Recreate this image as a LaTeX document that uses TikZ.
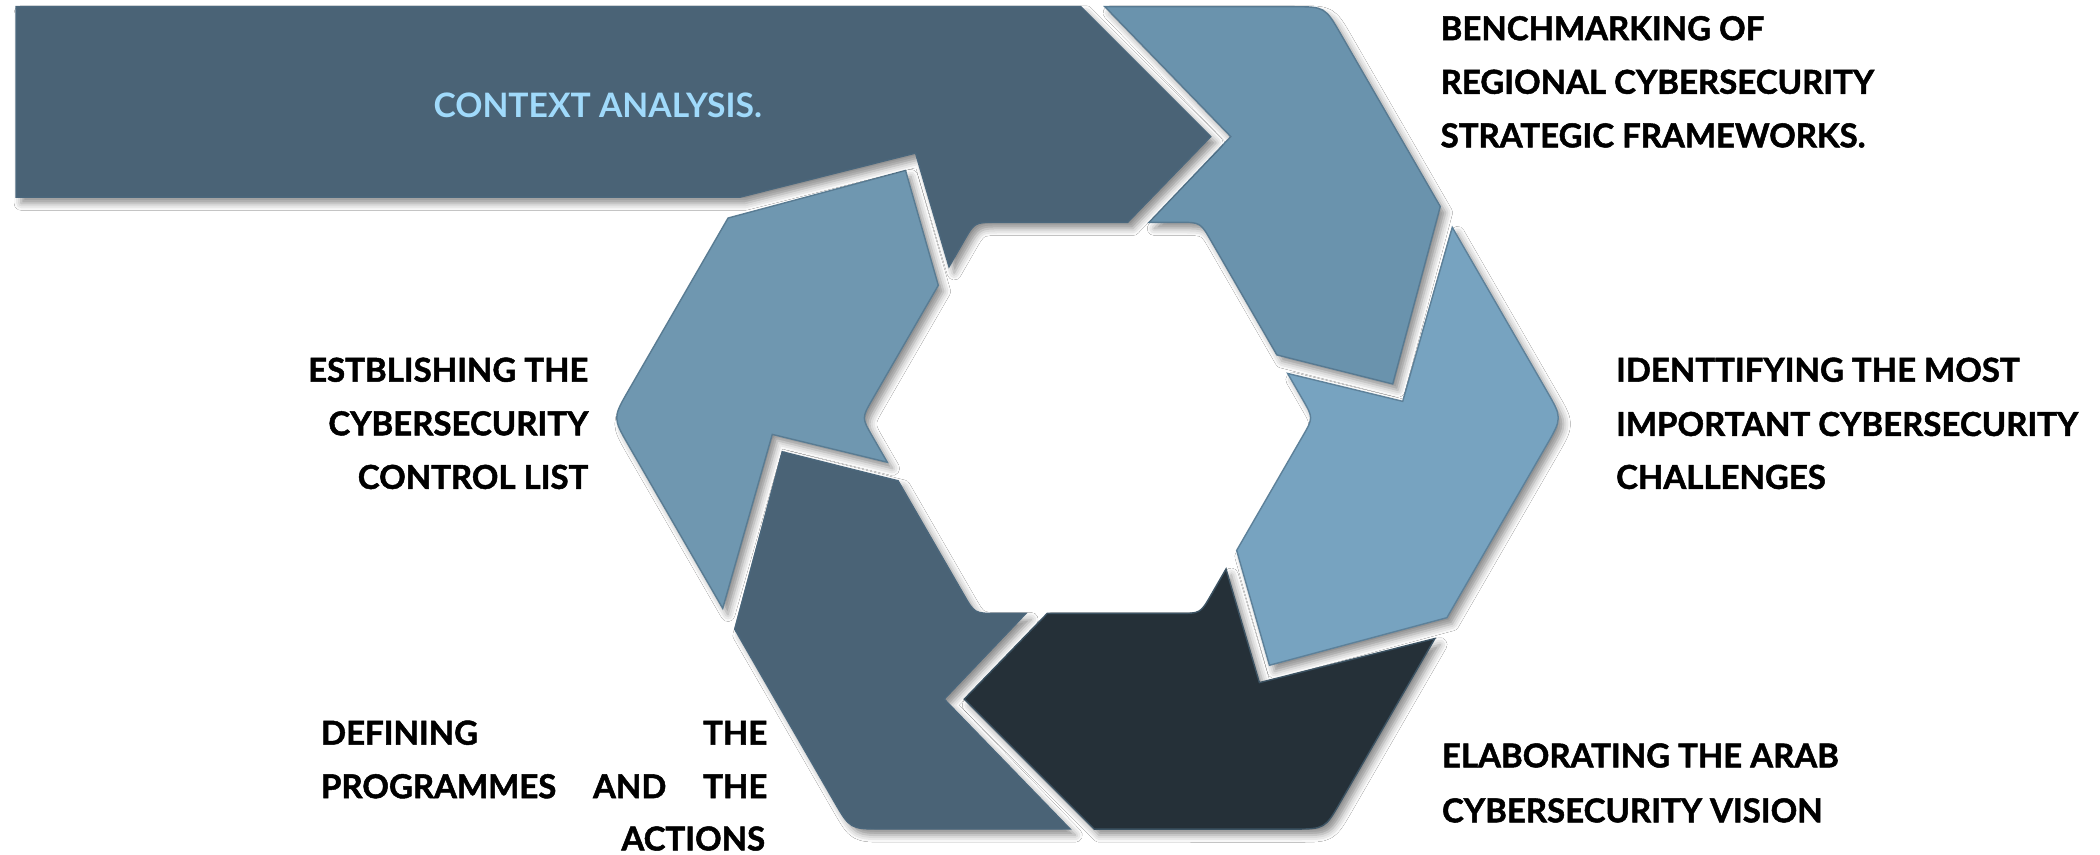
\documentclass[tikz,border=0pt]{standalone}
\usepackage{fontspec}
\setmainfont{Lato}
\newfontfamily\labfont{Lato}[BoldFeatures={FakeBold=1.5}]
\usetikzlibrary{calc,shadows.blur}
\definecolor{slate}{HTML}{4A6376}
\definecolor{midblue}{HTML}{6A93AD}
\definecolor{leftblue}{HTML}{6F97B0}
\definecolor{rightblue}{HTML}{77A3C0}
\definecolor{darkpiece}{HTML}{253038}
\definecolor{ctxblue}{HTML}{A0DAFB}
\definecolor{rimcol}{HTML}{4B6A80}
\begin{document}
\begin{tikzpicture}[x=0.01cm,y=0.01cm,
  seg/.style={draw=rimcol!60!#1,line width=0.3pt,fill=#1,
    blur shadow={shadow xshift=1.1pt,shadow yshift=-1.3pt,shadow blur radius=1.5pt,shadow opacity=45}},
  lbl/.style={inner sep=0pt,font=\fontsize{7pt}{8pt}\labfont\bfseries,text=black},
  ctxlbl/.style={inner sep=0pt,font=\fontsize{7.15pt}{8pt}\selectfont\bfseries,text=ctxblue},
]
\useasboundingbox (0,0) rectangle (1568,638);
\fill[white] (0,0) rectangle (1568,638);
\coordinate (C) at (812,326);
% five ring pieces, each wrapping one hexagon vertex
\foreach \ang/\col in {0/midblue,-60/rightblue,-120/darkpiece,-180/slate,-240/leftblue}{
  \fill[seg=\col]
    ([shift={(C)},rotate=\ang]13,307) -- ([shift={(C)},rotate=\ang]153.3,307)
    .. controls ([shift={(C)},rotate=\ang]177.3,307) .. ([shift={(C)},rotate=\ang]189.3,286.2)
    -- ([shift={(C)},rotate=\ang]263.4,157.8) -- ([shift={(C)},rotate=\ang]227.9,25.3)
    -- ([shift={(C)},rotate=\ang]141.4,47) -- ([shift={(C)},rotate=\ang]92.3,132.1)
    .. controls ([shift={(C)},rotate=\ang]84.3,146) .. ([shift={(C)},rotate=\ang]68.3,146)
    -- ([shift={(C)},rotate=\ang]46,146) -- ([shift={(C)},rotate=\ang]107,210) -- cycle;
}
% top piece with the long band to the left
\fill[seg=slate] (12,633) -- (807,633) -- (904,536) -- (842,472) -- (743.7,472)
  .. controls (727.7,472) .. (719.7,458.1) -- (708.6,438.8) -- (683.6,523.7)
  -- (552.6,490.8) -- (12,490.8) -- cycle;
% labels
\node[ctxlbl,anchor=base west] (ctx) at (323,550) {CONTEXT ANALYSIS.};
\node[lbl,anchor=base west] (b1) at (1075,608) {BENCHMARKING OF};
\node[lbl,anchor=base west] (b2) at (1075,568) {REGIONAL CYBERSECURITY};
\node[lbl,anchor=base west] (b3) at (1075,528) {STRATEGIC FRAMEWORKS.};
\node[lbl,anchor=base west] (i1) at (1206,353) {IDENTTIFYING THE MOST};
\node[lbl,anchor=base west] (i2) at (1206,312.5) {IMPORTANT CYBERSECURITY};
\node[lbl,anchor=base west] (i3) at (1206,273) {CHALLENGES};
\node[lbl,anchor=base west] (e1) at (1076,65) {ELABORATING THE ARAB};
\node[lbl,anchor=base west] (e2) at (1076,24) {CYBERSECURITY VISION};
\node[lbl,anchor=base east] (s1) at (440,353) {ESTBLISHING THE};
\node[lbl,anchor=base east] (s2) at (440,313) {CYBERSECURITY};
\node[lbl,anchor=base east] (s3) at (440,273) {CONTROL LIST};
\node[lbl,anchor=base west] (d1) at (239,82) {\makebox[3.33cm]{DEFINING\hfill THE}};
\node[lbl,anchor=base west] (d2) at (239,42) {\makebox[3.33cm]{PROGRAMMES\hfill AND\hfill THE}};
\node[lbl,anchor=base east] (d3) at (572,3) {ACTIONS};
\end{tikzpicture}
\end{document}
